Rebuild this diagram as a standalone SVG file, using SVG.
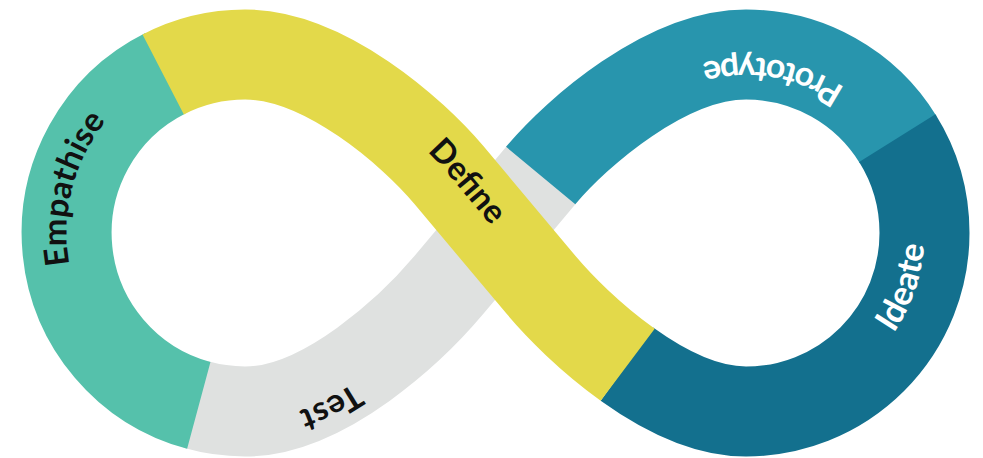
<svg xmlns="http://www.w3.org/2000/svg" width="983" height="458" viewBox="0 0 983 458">
<style>
.band{fill:none;stroke-width:90;stroke-linecap:butt;stroke-linejoin:round}
.lbl{font-family:Lato,"Liberation Sans",sans-serif;font-size:33px;font-weight:bold}
.dark{fill:#111}
.light{fill:#fff;font-size:34px}
</style>
<defs>
<path id="tpE" d="M 198.8 405.4 A 178.5 178.5 0 0 1 163.2 74.4"/>
<path id="tpD" d="M 245 54.5 C 325 54.5 413.3 132.7 448.7 174.8 L 541.3 285.2"/>
<path id="tpP" d="M 897.3 138.2 A 178.5 178.5 0 0 0 624.3 102.5"/>
<path id="tpI" d="M 777 408.8 A 178.5 178.5 0 0 0 900.6 143.75"/>
<path id="tpT" d="M 541.3 174.8 L 448.7 285.2 C 413.3 327.3 325 411.5 245 411.5 A 178.5 178.5 0 0 1 198.8 405.4"/>
</defs>
<rect width="983" height="458" fill="#fff"/>
<g id="connectors"></g>
<g id="test">
<path class="band" stroke="#DFE1E0" d="M 541.3 174.8 L 448.7 285.2 C 413.3 327.3 325 411.5 245 411.5 A 178.5 178.5 0 0 1 195.8 404.6"/>
<text class="lbl dark" dy="-10"><textPath href="#tpT" startOffset="309" text-anchor="middle">Test</textPath></text>
</g>
<g id="prototype">
<path class="band" stroke="#2895AD" d="M 898.2 139.7 A 178.5 178.5 0 0 0 746 54.5 C 666 54.5 576.7 132.7 541.3 174.8 l -0.64 0.77"/>
<text class="lbl light" dy="-3"><textPath href="#tpP" startOffset="150" text-anchor="middle">Prototype</textPath></text>
</g>
<g id="ideate">
<path class="band" stroke="#13708E" d="M 626.9 364.1 C 663.7 390.5 706 411.5 746 411.5 A 178.5 178.5 0 0 0 924.5 233 A 178.5 178.5 0 0 0 897.3 138.2"/>
<text class="lbl light"><textPath href="#tpI" startOffset="190" text-anchor="middle">Ideate</textPath></text>
</g>
<g id="empathise">
<path class="band" stroke="#55C1AB" d="M 198.8 405.4 A 178.5 178.5 0 0 1 165.4 73.3"/>
<text class="lbl dark"><textPath href="#tpE" startOffset="278" text-anchor="middle">Empathise</textPath></text>
</g>
<g id="define">
<path class="band" stroke="#E3D94A" d="M 163.2 74.4 A 178.5 178.5 0 0 1 245 54.5 C 325 54.5 413.3 132.7 448.7 174.8 L 541.3 285.2 C 559 306.3 590.2 337.8 626.9 364.1 l 0.8 0.6"/>
<text class="lbl dark"><textPath href="#tpD" startOffset="260" text-anchor="middle">Define</textPath></text>
</g>
</svg>
